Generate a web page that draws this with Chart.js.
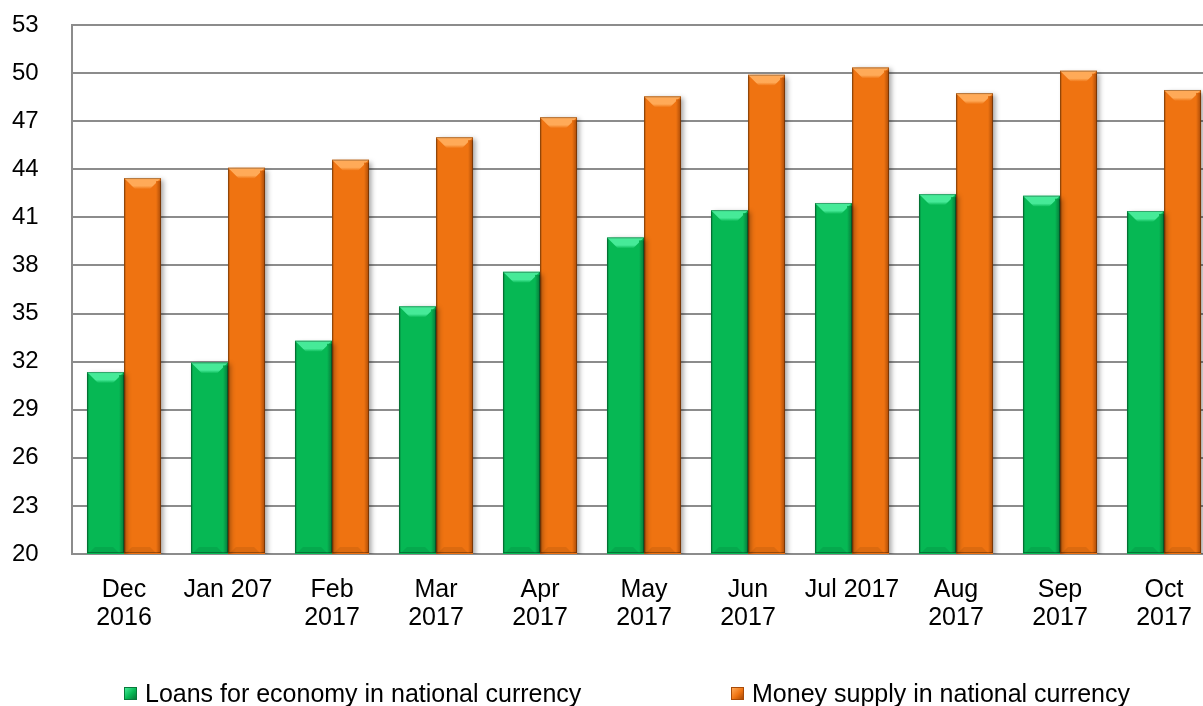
<!DOCTYPE html>
<html>
<head>
<meta charset="utf-8">
<script src="https://cdn.jsdelivr.net/npm/chart.js@4/dist/chart.umd.min.js"></script>
<style>
  html, body { margin: 0; padding: 0; background: #fff; }
  #wrap { position: relative; width: 1203px; height: 706px; overflow: hidden; }
  #chart { position: absolute; left: 0; top: 0; }
  .legend-item {
    position: absolute; top: 678px; height: 30px;
    font: 25px "Liberation Sans", Arial, sans-serif; color: #000;
    display: flex; align-items: center; white-space: nowrap;
  }
  .legend-item .box { width: 13px; height: 13px; margin-right: 8px; box-sizing: border-box; }
</style>
</head>
<body>
<div id="wrap">
  <canvas id="chart" width="1216" height="706"></canvas>
  <div class="legend-item" id="lg0" style="left:124px"><span class="box"></span><span class="txt"></span></div>
  <div class="legend-item" id="lg1" style="left:731px"><span class="box"></span><span class="txt"></span></div>
</div>
<script>
const months = [
  ['Dec', '2016'], 'Jan 207', ['Feb', '2017'], ['Mar', '2017'], ['Apr', '2017'],
  ['May', '2017'], ['Jun', '2017'], 'Jul 2017', ['Aug', '2017'], ['Sep', '2017'], ['Oct', '2017']
];
const loans       = [31.35, 31.95, 33.3, 35.45, 37.6, 39.75, 41.45, 41.9, 42.45, 42.35, 41.4];
const moneySupply = [43.45, 44.1, 44.6, 46.0, 47.25, 48.55, 49.9, 50.35, 48.75, 50.15, 48.95];
const seriesNames = ['Loans for economy in national currency', 'Money supply in national currency'];
const yTicks      = { min: 20, max: 53, step: 3 };

// fill, light top bevel, dark edge
const palette = [
  { fill: '#06B854', light: '#46EA98', dark: '#07793A' },
  { fill: '#EF7311', light: '#FFAA58', dark: '#A84A07' }
];

// legend (html, real text)
seriesNames.forEach((name, i) => {
  const el = document.getElementById('lg' + i);
  const p  = palette[i];
  el.querySelector('.txt').textContent = name;
  const box = el.querySelector('.box');
  box.style.background = `linear-gradient(135deg, ${p.light}, ${p.fill} 55%, ${p.dark})`;
  box.style.border = `1px solid ${p.dark}`;
});

const shadowPlugin = {
  id: 'barShadow',
  beforeDatasetDraw(chart) {
    const c = chart.ctx;
    c.save();
    c.shadowColor   = 'rgba(0,0,0,0.35)';
    c.shadowOffsetX = 3;
    c.shadowOffsetY = 2;
    c.shadowBlur    = 5;
  },
  afterDatasetDraw(chart) {
    chart.ctx.restore();
  }
};

const bevelPlugin = {
  id: 'bevel',
  afterDatasetDraw(chart, args) {
    const c = chart.ctx;
    const p = palette[args.index];
    const bottom = chart.chartArea.bottom;
    args.meta.data.forEach(bar => {
      const { x, y, base, width } = bar.getProps(['x', 'y', 'base', 'width'], true);
      const l = x - width / 2, r = x + width / 2, b = 11;
      const yb = Math.min(base, bottom) - 1;   // bars are clipped at the axis (min 20)
      c.save();
      // top bevel
      const g = c.createLinearGradient(0, y, 0, y + b);
      g.addColorStop(0, p.light);
      g.addColorStop(0.7, p.light);
      g.addColorStop(1, p.fill);
      c.fillStyle = g;
      c.beginPath();
      c.moveTo(l, y); c.lineTo(r, y); c.lineTo(r - b, y + b); c.lineTo(l + b, y + b);
      c.closePath(); c.fill();
      // right edge
      const gr = c.createLinearGradient(r - 5, 0, r, 0);
      gr.addColorStop(0, p.fill);
      gr.addColorStop(1, p.dark);
      c.fillStyle = gr;
      c.fillRect(r - 5, y + 3, 5, yb - y - 3);
      // left edge
      c.fillStyle = 'rgba(0,0,0,0.12)';
      c.fillRect(l, y + 2, 2, yb - y - 2);
      // bottom bevel
      c.fillStyle = 'rgba(0,0,0,0.08)';
      c.beginPath();
      c.moveTo(l + 2, yb); c.lineTo(r - 5, yb); c.lineTo(r - 11, yb - 6); c.lineTo(l + 8, yb - 6);
      c.closePath(); c.fill();
      // rim
      c.strokeStyle = 'rgba(0,0,0,0.3)';
      c.lineWidth = 1;
      c.strokeRect(l + 0.5, y + 0.5, width - 1, yb - y - 1);
      c.restore();
    });
  }
};

new Chart(document.getElementById('chart').getContext('2d'), {
  type: 'bar',
  data: {
    labels: months,
    datasets: seriesNames.map((name, i) => ({
      label: name,
      data: i === 0 ? loans : moneySupply,
      backgroundColor: palette[i].fill,
      borderWidth: 0,
      categoryPercentage: 0.712,
      barPercentage: 1.0
    }))
  },
  options: {
    responsive: false,
    animation: false,
    layout: { padding: { top: 25, left: 12, right: 0, bottom: 73 } },
    plugins: {
      legend: { display: false },
      tooltip: { enabled: false }
    },
    scales: {
      x: {
        grid: { display: false, drawTicks: false },
        border: { display: true, color: '#8c8c8c', width: 2 },
        afterFit: s => { s.height = 79; },
        ticks: {
          color: '#000',
          padding: 22,
          maxRotation: 0,
          autoSkip: false,
          font: { family: '"Liberation Sans", Arial, sans-serif', size: 25, lineHeight: 1.12 }
        }
      },
      y: {
        min: yTicks.min,
        max: yTicks.max,
        grid: { color: '#8c8c8c', lineWidth: 2, drawTicks: false },
        border: { display: true, color: '#8c8c8c', width: 2 },
        afterFit: s => { s.width = 60; },
        ticks: {
          stepSize: yTicks.step,
          color: '#000',
          padding: 0,
          crossAlign: 'far',
          font: { family: '"Liberation Sans", Arial, sans-serif', size: 24 }
        }
      }
    }
  },
  plugins: [shadowPlugin, bevelPlugin]
});
</script>
</body>
</html>
